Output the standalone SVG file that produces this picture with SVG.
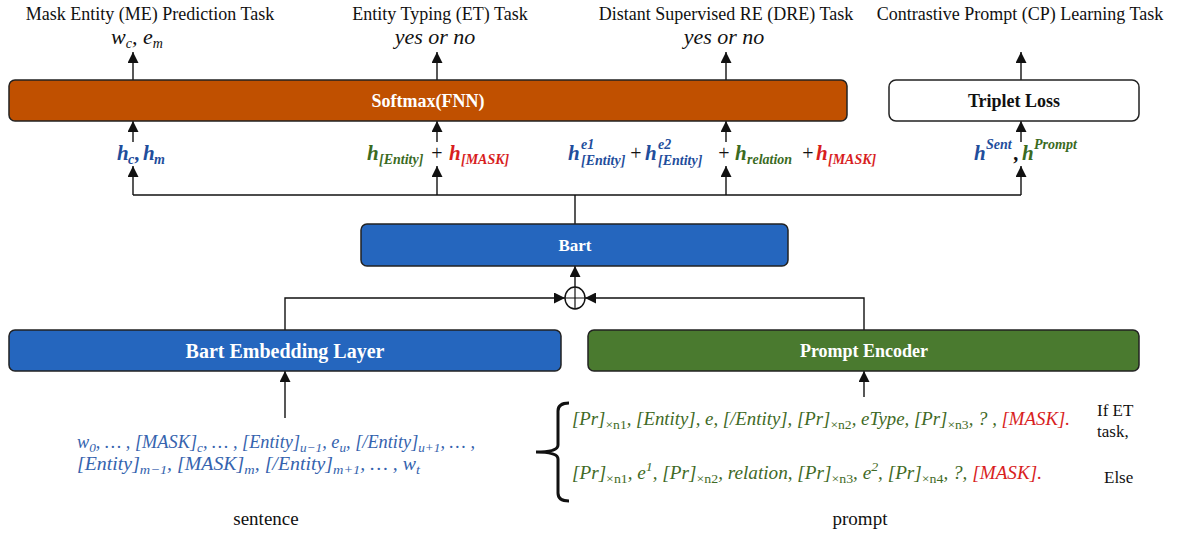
<svg xmlns="http://www.w3.org/2000/svg" width="1177" height="534" viewBox="0 0 1177 534">
<style>
.title{font-family:"Liberation Serif",serif;font-size:18px;fill:#111;text-anchor:middle}
.it{font-family:"Liberation Serif",serif;font-style:italic;fill:#111}
.box{stroke:#222;stroke-width:1.5}
.bt{font-family:"Liberation Serif",serif;font-weight:bold;fill:#fff;text-anchor:middle}
.lab{font-family:"Liberation Serif",serif;font-style:italic;font-weight:bold;font-size:21px}
.sub{font-family:"Liberation Serif",serif;font-style:italic;font-weight:bold;font-size:14px}
.op{font-family:"Liberation Serif",serif;font-size:20px;fill:#111}
.blue{fill:#1F4E9C}.green{fill:#3B6B1F}.red{fill:#D81E1E}
.seq{font-family:"Liberation Serif",serif;font-style:italic;font-size:18px}
.sblue{fill:#3563AE}.sgreen{fill:#3F6A26}
.plain{font-family:"Liberation Serif",serif;fill:#111}
.conn{fill:none;stroke:#111;stroke-width:1.4}
</style>
<defs>
<marker id="ah" viewBox="0 0 10 10" refX="10" refY="5" markerWidth="11" markerHeight="11" markerUnits="userSpaceOnUse" orient="auto"><path d="M0,0 L10,5 L0,10 z" fill="#111"/></marker>
</defs>

<g id="titles">
<text class="title" x="150" y="20">Mask Entity (ME) Prediction Task</text>
<text class="title" x="440" y="20">Entity Typing (ET) Task</text>
<text class="title" x="726" y="20">Distant Supervised RE (DRE) Task</text>
<text class="title" x="1020" y="20">Contrastive Prompt (CP) Learning Task</text>
<text class="it" x="111" y="44" font-size="22">w<tspan font-size="14" dy="4">c</tspan><tspan dy="-4">, e</tspan><tspan font-size="14" dy="4">m</tspan></text>
<text class="it" x="435" y="44" font-size="22" text-anchor="middle">yes or no</text>
<text class="it" x="724" y="44" font-size="22" text-anchor="middle">yes or no</text>
</g>

<g id="connectors">
<line class="conn" x1="133" y1="80" x2="133" y2="52" marker-end="url(#ah)"/>
<line class="conn" x1="437" y1="80" x2="437" y2="52" marker-end="url(#ah)"/>
<line class="conn" x1="726" y1="80" x2="726" y2="52" marker-end="url(#ah)"/>
<line class="conn" x1="1021" y1="80" x2="1021" y2="52" marker-end="url(#ah)"/>
<line class="conn" x1="133" y1="142" x2="133" y2="121" marker-end="url(#ah)"/>
<line class="conn" x1="437" y1="142" x2="437" y2="121" marker-end="url(#ah)"/>
<line class="conn" x1="726" y1="142" x2="726" y2="121" marker-end="url(#ah)"/>
<line class="conn" x1="1021" y1="142" x2="1021" y2="121" marker-end="url(#ah)"/>
<line class="conn" x1="133" y1="195" x2="133" y2="166" marker-end="url(#ah)"/>
<line class="conn" x1="437" y1="195" x2="437" y2="166" marker-end="url(#ah)"/>
<line class="conn" x1="726" y1="195" x2="726" y2="166" marker-end="url(#ah)"/>
<line class="conn" x1="1021" y1="195" x2="1021" y2="166" marker-end="url(#ah)"/>
<line class="conn" x1="133" y1="195" x2="1021" y2="195"/>
<line class="conn" x1="575" y1="224" x2="575" y2="195"/>
<line class="conn" x1="575" y1="288" x2="575" y2="266" marker-end="url(#ah)"/>
<path class="conn" d="M285 330 V298 H565" marker-end="url(#ah)"/>
<path class="conn" d="M864 330 V298 H585" marker-end="url(#ah)"/>
<line class="conn" x1="285" y1="418" x2="285" y2="371" marker-end="url(#ah)"/>
<line class="conn" x1="864" y1="397" x2="864" y2="371" marker-end="url(#ah)"/>
<ellipse cx="575" cy="298" rx="10" ry="11" fill="#fff" stroke="#111" stroke-width="1.4"/>
<path d="M565 298 H585 M575 287 V309" stroke="#111" stroke-width="1.2"/>
</g>

<g id="softmax">
<rect class="box" x="9" y="80" width="838" height="41" rx="6" fill="#C05000"/>
<text class="bt" x="428" y="107" font-size="18">Softmax(FNN)</text>
</g>
<g id="triplet">
<rect class="box" x="889" y="80" width="250" height="41" rx="7" fill="#fff"/>
<text class="bt" x="1014" y="107" font-size="18" fill="#111" style="fill:#111">Triplet Loss</text>
</g>
<g id="bart">
<rect class="box" x="361" y="224" width="427" height="42" rx="6" fill="#2566BE"/>
<text class="bt" x="575" y="251" font-size="17">Bart</text>
</g>
<g id="embedding">
<rect class="box" x="9" y="330" width="552" height="41" rx="6" fill="#2566BE"/>
<text class="bt" x="285" y="358" font-size="20">Bart Embedding Layer</text>
</g>
<g id="prompt-encoder">
<rect class="box" x="588" y="330" width="551" height="41" rx="6" fill="#4A7A2F"/>
<text class="bt" x="864" y="357" font-size="18">Prompt Encoder</text>
</g>

<g id="labels">
<text class="lab blue" x="117" y="160">h</text>
<text class="sub blue" x="128" y="164">c</text>
<text class="lab blue" x="135" y="160">,</text>
<text class="lab blue" x="143" y="160">h</text>
<text class="sub blue" x="154" y="164">m</text>

<text class="lab green" x="367" y="160">h</text>
<text class="sub green" x="379" y="164">[Entity]</text>
<text class="op" x="437" y="160" text-anchor="middle">+</text>
<text class="lab red" x="449" y="160">h</text>
<text class="sub red" x="461" y="164">[MASK]</text>

<text class="lab blue" x="568" y="160">h</text>
<text class="sub blue" x="581" y="149">e1</text>
<text class="sub blue" x="581" y="165">[Entity]</text>
<text class="op" x="636" y="160" text-anchor="middle">+</text>
<text class="lab blue" x="645" y="160">h</text>
<text class="sub blue" x="658" y="149">e2</text>
<text class="sub blue" x="658" y="165">[Entity]</text>
<text class="op" x="724" y="160" text-anchor="middle">+</text>
<text class="lab green" x="735" y="160">h</text>
<text class="sub green" x="747" y="164">relation</text>
<text class="op" x="808" y="160" text-anchor="middle">+</text>
<text class="lab red" x="816" y="160">h</text>
<text class="sub red" x="828" y="164">[MASK]</text>

<text class="lab blue" x="974" y="160">h</text>
<text class="sub blue" x="986" y="149">Sent</text>
<text class="lab" x="1014" y="160" fill="#111">,</text>
<text class="lab green" x="1022" y="160">h</text>
<text class="sub green" x="1034" y="149">Prompt</text>
</g>

<g id="sentence">
<text class="seq sblue" x="77" y="448" textLength="398" lengthAdjust="spacingAndGlyphs">w<tspan font-size="13" dy="4">0</tspan><tspan dy="-4">, … , [MASK]</tspan><tspan font-size="13" dy="4">c</tspan><tspan dy="-4">, … , [Entity]</tspan><tspan font-size="13" dy="4">u−1</tspan><tspan dy="-4">, e</tspan><tspan font-size="13" dy="4">u</tspan><tspan dy="-4">, [/Entity]</tspan><tspan font-size="13" dy="4">u+1</tspan><tspan dy="-4">, … ,</tspan></text>
<text class="seq sblue" x="77" y="470" textLength="343" lengthAdjust="spacingAndGlyphs">[Entity]<tspan font-size="13" dy="4">m−1</tspan><tspan dy="-4">, [MASK]</tspan><tspan font-size="13" dy="4">m</tspan><tspan dy="-4">, [/Entity]</tspan><tspan font-size="13" dy="4">m+1</tspan><tspan dy="-4">,  …  , w</tspan><tspan font-size="13" dy="4">t</tspan></text>
<text class="plain" x="266" y="525" font-size="19" text-anchor="middle">sentence</text>
</g>

<g id="prompt">
<path d="M569 403 Q558 403 558 411 L558 445 Q558 452 536 452 Q558 452 558 459 L558 493 Q558 501 569 501" fill="none" stroke="#111" stroke-width="3"/>
<text class="seq sgreen" x="572" y="425" textLength="498" lengthAdjust="spacingAndGlyphs">[Pr]<tspan font-style="normal" font-size="13" dy="4">×n1</tspan><tspan dy="-4">, [Entity], e, [/Entity], [Pr]</tspan><tspan font-style="normal" font-size="13" dy="4">×n2</tspan><tspan dy="-4">, eType, [Pr]</tspan><tspan font-style="normal" font-size="13" dy="4">×n3</tspan><tspan dy="-4">, ? , </tspan><tspan class="red">[MASK].</tspan></text>
<text class="seq sgreen" x="572" y="479" textLength="470" lengthAdjust="spacingAndGlyphs">[Pr]<tspan font-style="normal" font-size="13" dy="4">×n1</tspan><tspan dy="-4">, e</tspan><tspan font-size="13" dy="-8">1</tspan><tspan dy="8">, [Pr]</tspan><tspan font-style="normal" font-size="13" dy="4">×n2</tspan><tspan dy="-4">, relation, [Pr]</tspan><tspan font-style="normal" font-size="13" dy="4">×n3</tspan><tspan dy="-4">, e</tspan><tspan font-size="13" dy="-8">2</tspan><tspan dy="8">, [Pr]</tspan><tspan font-style="normal" font-size="13" dy="4">×n4</tspan><tspan dy="-4">, ?, </tspan><tspan class="red">[MASK].</tspan></text>
<text class="plain" x="1097" y="416" font-size="17">If ET</text>
<text class="plain" x="1097" y="437" font-size="17">task,</text>
<text class="plain" x="1104" y="483" font-size="17">Else</text>
<text class="plain" x="860" y="525" font-size="19" text-anchor="middle">prompt</text>
</g>
</svg>
